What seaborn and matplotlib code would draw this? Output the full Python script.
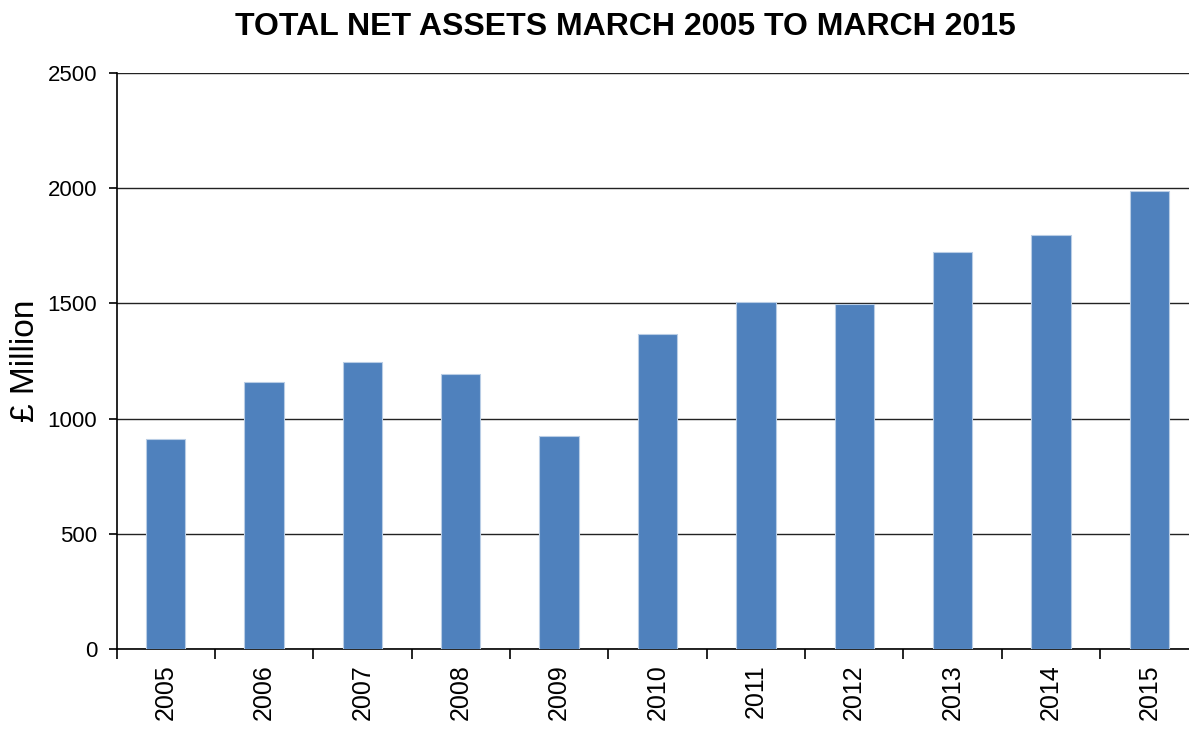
import matplotlib
matplotlib.use("Agg")
import matplotlib.pyplot as plt
import seaborn as sns
import pandas as pd
from matplotlib.ticker import FixedLocator

years = ["2005", "2006", "2007", "2008", "2009", "2010", "2011", "2012", "2013", "2014", "2015"]
net_assets = [910, 1160, 1245, 1195, 925, 1368, 1505, 1498, 1722, 1797, 1988]
y_ticks = [0, 500, 1000, 1500, 2000, 2500]

sns.set_theme(style="white")
plt.rcParams['font.family'] = ['Liberation Sans', 'DejaVu Sans']

df = pd.DataFrame({"year": years, "value": net_assets})

fig = plt.figure(figsize=(11.89, 7.29), dpi=100)
ax = fig.add_axes([116.5/1189, 1-649/729, (1198.5-116.5)/1189, (649-73)/729])

sns.barplot(data=df, x="year", y="value", color="#4F81BD", saturation=1,
            width=0.4, edgecolor="#B9CDE5", linewidth=0.8, ax=ax, zorder=3)

ax.set_ylim(0, 2500)
ax.set_xlim(-0.5, len(years) - 0.5)
ax.set_yticks(y_ticks)
ax.yaxis.grid(True, color="#222222", linewidth=1.0, zorder=0)
ax.xaxis.grid(False)
ax.set_axisbelow(True)

for s in ["top", "right"]:
    ax.spines[s].set_visible(False)
for s in ["left", "bottom"]:
    ax.spines[s].set_color("black")
    ax.spines[s].set_linewidth(1.2)

ax.xaxis.set_minor_locator(FixedLocator([i - 0.5 for i in range(len(years) + 1)]))
ax.tick_params(axis="x", which="major", length=0, labelsize=18, rotation=90, pad=11, colors="black")
ax.tick_params(axis="x", which="minor", length=7, width=1.2, direction="out", color="black", bottom=True)
ax.tick_params(axis="y", length=6, width=1.2, direction="out", left=True, labelsize=16, pad=8, colors="black")

ax.set_xlabel("")
ax.set_ylabel("£ Million", fontsize=24, color="black")
ax.yaxis.set_label_coords(-76/1082, 0.5)
fig.suptitle("TOTAL NET ASSETS MARCH 2005 TO MARCH 2015", fontsize=23, fontweight="bold",
             x=0.526, y=0.983, color="black")

fig.savefig("out.png", dpi=100)
